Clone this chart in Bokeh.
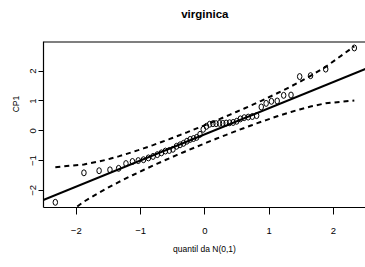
from bokeh.plotting import figure
from bokeh.models import LinearAxis, FixedTicker, Slope, Range1d, Span
from bokeh.core.properties import value
from bokeh.embed import file_html
from bokeh.resources import INLINE

# theoretical normal quantiles (x) and sorted CP1 scores (y)
quantiles = [-2.326, -1.881, -1.645, -1.476, -1.341, -1.227, -1.126, -1.036, -0.954, -0.878,
             -0.806, -0.739, -0.675, -0.613, -0.553, -0.496, -0.440, -0.385, -0.332, -0.279,
             -0.228, -0.176, -0.126, -0.075, -0.025, 0.025, 0.075, 0.126, 0.176, 0.228,
             0.279, 0.332, 0.385, 0.440, 0.496, 0.553, 0.613, 0.675, 0.739, 0.806,
             0.878, 0.954, 1.036, 1.126, 1.227, 1.341, 1.476, 1.645, 1.881, 2.326]
cp1 = [-2.40, -1.41, -1.34, -1.31, -1.26, -1.10, -1.03, -1.00, -0.97, -0.91,
       -0.86, -0.80, -0.74, -0.68, -0.66, -0.62, -0.52, -0.47, -0.42, -0.35,
       -0.29, -0.26, -0.22, -0.12, 0.05, 0.15, 0.22, 0.24, 0.24, 0.25,
       0.25, 0.26, 0.27, 0.28, 0.32, 0.40, 0.44, 0.46, 0.48, 0.51,
       0.80, 0.92, 0.99, 1.00, 1.19, 1.20, 1.82, 1.85, 2.07, 2.78]
# envelope at the same quantiles
band_upper = [-1.220, -1.130, -1.030, -0.940, -0.858, -0.783, -0.714, -0.650, -0.591, -0.534,
              -0.480, -0.427, -0.377, -0.327, -0.279, -0.232, -0.186, -0.141, -0.096, -0.052,
              -0.008, 0.036, 0.080, 0.123, 0.167, 0.211, 0.255, 0.300, 0.346, 0.392,
              0.439, 0.487, 0.536, 0.586, 0.638, 0.693, 0.749, 0.808, 0.870, 0.936,
              1.007, 1.083, 1.167, 1.260, 1.366, 1.490, 1.642, 1.843, 2.146, 2.835]
band_lower = [-3.067, -2.378, -2.075, -1.874, -1.722, -1.598, -1.492, -1.399, -1.315, -1.239,
              -1.168, -1.102, -1.040, -0.981, -0.925, -0.870, -0.818, -0.768, -0.719, -0.671,
              -0.624, -0.578, -0.532, -0.487, -0.443, -0.399, -0.355, -0.312, -0.268, -0.224,
              -0.180, -0.136, -0.091, -0.046, 0.000, 0.047, 0.095, 0.145, 0.195, 0.248,
              0.303, 0.360, 0.421, 0.486, 0.556, 0.632, 0.717, 0.814, 0.925, 1.018]
line_intercept = -0.116
line_slope = 0.878
tick_values = [-2, -1, 0, 1, 2]
tick_labels = ["\u22122", "\u22121", "0", "1", "2"]
title_text = "virginica"

FONT = "Liberation Sans"
Y_BOX = (-2.574, 2.98)     # extent of the plot box
Y_VIEW_TOP = 4.3726        # frame extends above the box to hold the title
TITLE_Y = 3.903

p = figure(width=365, height=267, output_backend="svg", toolbar_location=None,
           x_range=Range1d(-2.51, 2.50), y_range=Range1d(Y_BOX[0], Y_VIEW_TOP),
           x_axis_location=None, y_axis_location=None,
           min_border_left=43, min_border_right=0, min_border_top=0, min_border_bottom=60)
p.outline_line_color = None
p.grid.visible = False
p.background_fill_color = "white"
p.border_fill_color = "white"

def style_axis(ax, tick_out):
    ax.ticker = FixedTicker(ticks=tick_values)
    ax.major_label_overrides = {v: l for v, l in zip(tick_values, tick_labels)}
    ax.minor_tick_line_color = None
    ax.major_tick_in = 0
    ax.major_tick_out = tick_out
    ax.major_tick_line_color = "black"
    ax.axis_line_color = "black"
    ax.axis_line_width = 1.2
    ax.major_tick_line_width = 1
    ax.major_label_text_font = FONT
    ax.major_label_text_font_size = "9.5px"
    ax.major_label_text_color = "black"
    ax.axis_label_text_font = FONT
    ax.axis_label_text_font_size = "8.5px"
    ax.axis_label_text_font_style = "normal"
    ax.axis_label_text_color = "black"

xax = LinearAxis(axis_label="quantil da N(0,1)")
style_axis(xax, 7)
xax.major_label_standoff = 13
xax.axis_label_standoff = 7
p.add_layout(xax, "below")

yax = LinearAxis(axis_label="CP1", bounds=Y_BOX)
style_axis(yax, 5)
yax.major_label_orientation = "vertical"
yax.major_label_standoff = 2
yax.axis_label_standoff = 7
p.add_layout(yax, "left")

p.add_layout(Span(location=Y_BOX[1], dimension="width", line_color="black", line_width=1.2))

p.text(x=[0.0], y=[TITLE_Y], text=[title_text], text_align="center", text_baseline="middle",
       text_font=value(FONT), text_font_size="11.5px", text_font_style="bold", text_color="black")

p.ellipse(x=quantiles, y=cp1, width=4.5, height=6, width_units="screen", height_units="screen",
          fill_color=None, line_color="black", line_width=1)
p.add_layout(Slope(gradient=line_slope, y_intercept=line_intercept, line_color="black", line_width=2))
p.line(quantiles, band_upper, line_color="black", line_width=2, line_dash="5 4")
p.line(quantiles, band_lower, line_color="black", line_width=2, line_dash="5 4")

open("out.html", "w").write(file_html(p, INLINE))
